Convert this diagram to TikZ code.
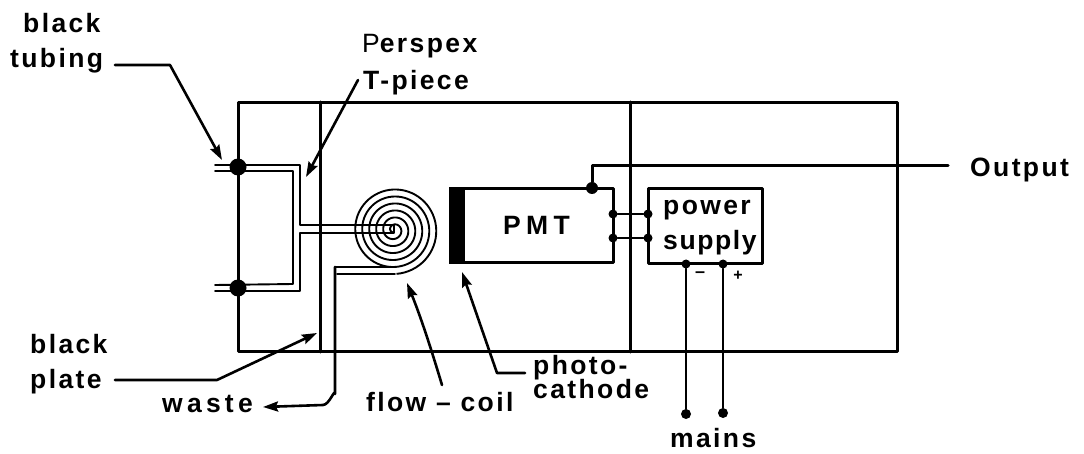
\documentclass[tikz,border=0pt]{standalone}
\usepackage{fontspec}
\setmainfont[LetterSpace=9]{Liberation Sans}
\usetikzlibrary{arrows.meta,calc}
\newcommand{\lblfont}{\fontsize{26.5}{29}\selectfont\bfseries}
\tikzset{
  wire/.style={line width=3pt,black,line cap=round,line join=round},
  tube/.style={line width=1.9pt,black,line cap=round,line join=round},
  lead/.style={line width=2.6pt,black,line cap=round,line join=round},
  arrowlead/.style={lead,-{Stealth[length=15pt,width=10pt,inset=2pt]}},
  dot/.style={circle,fill=black,draw=none,inner sep=0pt,minimum size=#1},
  dot/.default=9pt,
  lab/.style={anchor=base west,inner sep=0pt,font=\lblfont},
  boxed/.style={draw,line width=3pt,rectangle,inner sep=0pt,line join=round}
}
\begin{document}
\begin{tikzpicture}[x=1pt,y=-1pt]
\useasboundingbox (0,0) rectangle (1084,454);
% housing
\node[boxed,minimum width=659pt,minimum height=249.5pt] (house) at (567.5,227) {};
\coordinate (div1t) at (320,102); \coordinate (div1b) at (320,352);
\coordinate (div2t) at (630,102); \coordinate (div2b) at (630,352);
\draw[wire] (div1t) -- (div1b);
\draw[wire] (div2t) -- (div2b);
% feedthrough dots
\node[dot=17pt] (ft1) at (238,167) {};
\node[dot=17pt] (ft2) at (238,288) {};
% T-piece tubing
\coordinate (stubA) at (215,165); \coordinate (stubB) at (215,171);
\coordinate (stubC) at (215,285); \coordinate (stubD) at (215,291);
\draw[tube] (stubB) -- (293,171) -- (293,284) -- (stubC);
\draw[tube] (stubA) -- (300,165) -- (300,225) -- (394,225);
\draw[tube] (stubD) -- (300,291) -- (300,233) -- (394,233) -- (394,225);
% coil
\draw[line width=1.9pt,line join=round] plot[domain=0:1,samples=400,smooth]
  ({394+(2+42*\x)*cos(90-2160*(1-\x))},{230+(2+42*\x)*sin(90-2160*(1-\x))});
\coordinate (wasteTop) at (335,267);
\draw[tube] (395,267) -- (wasteTop);
\draw[tube] (395,274) -- (337,274);
\node[lab,font=\lblfont\addfontfeature{LetterSpace=16}] (waste) at (162,412) {waste};
\draw[lead,-{Stealth[length=15pt,width=10pt,inset=2pt]}]
  (wasteTop) -- (335,394) to[out=90,in=0] (323,405) -- (263,407);
% PMT
\node[boxed,minimum width=163pt,minimum height=74pt] (pmt) at (531.5,226) {};
\node[lab,font=\lblfont\addfontfeature{LetterSpace=20}] (pmtlab) at (503,235) {PMT};
\fill (pmt.north west) rectangle ($(pmt.south west)+(16,0)$);
% power supply
\node[boxed,minimum width=114pt,minimum height=75pt] (psu) at (705,226.5) {};
\node[lab] (pw) at (663,215) {power};
\node[lab,font=\lblfont\addfontfeature{LetterSpace=6}] (sp) at (663,250) {supply};
\node[lab,anchor=center,font=\fontsize{18}{20}\selectfont\bfseries] (minus) at (700,275) {–};
\node[lab,anchor=center,font=\fontsize{16}{18}\selectfont\bfseries] (plus) at (738,276) {+};
% PMT <-> supply links
\node[dot=9pt] (l1a) at (613,214) {}; \node[dot=9pt] (l1b) at (648,214) {};
\node[dot=9pt] (l2a) at (613,238) {}; \node[dot=9pt] (l2b) at (648,238) {};
\draw[lead] (l1a) -- (l1b);
\draw[lead] (l2a) -- (l2b);
% output
\node[dot=12pt] (od) at (592,188) {};
\coordinate (oe) at (948,165.5);
\node[lab] (output) at (970,177) {Output};
\draw[wire] (od) |- (oe);
% mains
\node[dot=9pt] (m1) at (686,264) {}; \node[dot=9pt] (m2) at (723,264) {};
\node[dot=10pt] (m3) at (686,414) {}; \node[dot=10pt] (m4) at (723,413) {};
\draw[lead] (m1) -- (m3);
\draw[lead] (m2) -- (m4);
\node[lab] (mains) at (670,447) {mains};
% labels
\node[lab] (tub1) at (23,33) {black};
\node[lab] (tub2) at (10,68) {tubing};
\node[lab] (per1) at (362,53) {{\mdseries P}erspex};
\node[lab] (per2) at (363,90) {T-piece};
\node[lab] (pl1) at (30,353) {black};
\node[lab] (pl2) at (30,388) {plate};
\node[lab] (fc) at (366,411) {flow – coil};
\node[lab] (ph1) at (533,374) {photo-};
\node[lab] (ph2) at (533,398) {cathode};
% arrows
\coordinate (aT0) at (115,65); \coordinate (aT1) at (170,65); \coordinate (aT2) at (222,160);
\draw[arrowlead] (aT0) -- (aT1) -- (aT2);
\coordinate (aP0) at (358,80); \coordinate (aP1) at (306,177);
\draw[arrowlead] (aP0) -- (aP1);
\coordinate (aB0) at (115,380); \coordinate (aB1) at (217,380); \coordinate (aB2) at (317,333);
\draw[arrowlead] (aB0) -- (aB1) -- (aB2);
\coordinate (aF0) at (442,385); \coordinate (aF1) at (407,283);
\draw[arrowlead] (aF0) .. controls (430,345) and (420,315) .. (aF1);
\coordinate (aC0) at (525,373); \coordinate (aC1) at (497,373); \coordinate (aC2) at (462,272);
\draw[arrowlead] (aC0) -- (aC1) -- (aC2);
\end{tikzpicture}
\end{document}
